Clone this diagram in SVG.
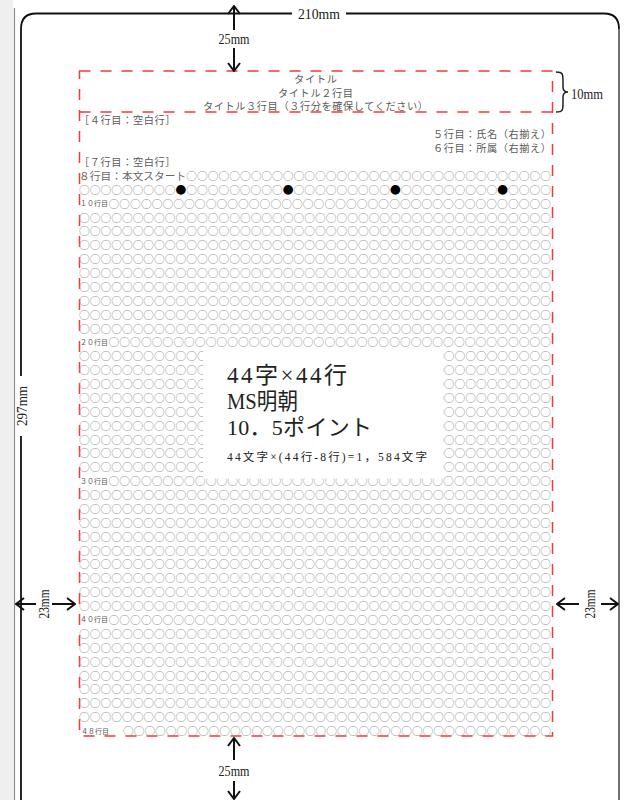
<svg xmlns="http://www.w3.org/2000/svg" width="625" height="800" viewBox="0 0 625 800">
<style>
.g{font-family:"Noto Sans CJK JP",sans-serif;font-size:10.727px;fill:#8f8f8f;dominant-baseline:central}
.lb{fill:#666}
.bk{fill:#000}
.l{font-family:"Noto Sans CJK JP",sans-serif;font-size:10.2px;fill:#5a5a5a;dominant-baseline:central}
.sl{font-family:"Noto Sans CJK JP",sans-serif;font-size:7px;fill:#555;dominant-baseline:central}
.d{font-family:"Liberation Serif","Noto Sans CJK JP",serif;font-size:14px;fill:#222}
.big{font-family:"Liberation Serif","Noto Sans CJK JP",serif;fill:#222}
.red{fill:none;stroke:#f23a3a;stroke-width:1.5;stroke-dasharray:11 10}
.ln{stroke:#111;stroke-width:1.8;fill:none}
.ar{stroke:#111;stroke-width:2;fill:none}
</style>
<defs>
<marker id="arr" viewBox="0 0 10 14" refX="9" refY="7" markerWidth="10" markerHeight="14" markerUnits="userSpaceOnUse" orient="auto">
<path d="M1,1 L9,7 L1,13" fill="none" stroke="#111" stroke-width="2"/>
</marker>
</defs>
<rect width="625" height="800" fill="#fff"/>
<rect width="13" height="800" fill="#efefef"/>

<g id="page-frame">
<line x1="14.5" y1="8" x2="14.5" y2="800" stroke="#8a8a8a" stroke-width="1.2"/>
<path class="ln" d="M21 29 Q21 13.5 36 13.5 H292 M346 13.5 H604 Q619 13.5 619 29"/>
<line x1="619" y1="29" x2="619" y2="800" stroke="#222" stroke-width="1.3"/>
<path class="ln" d="M21 29 V376 M21 436 V800"/>
<text class="d" x="319" y="18.5" text-anchor="middle" textLength="42" lengthAdjust="spacingAndGlyphs">210mm</text>
<text class="d" x="22" y="406" text-anchor="middle" dominant-baseline="central" transform="rotate(-90 22 406)" textLength="40" lengthAdjust="spacingAndGlyphs">297mm</text>
</g>

<g id="text-area">
<rect class="red" x="79.5" y="71" width="473" height="665"/>
<line class="red" x1="79.5" y1="112" x2="552.5" y2="112"/>
</g>

<g id="title-brace">
<path d="M556 72 C563 72 563 74 563 82 L563 87 C563 91 565 92 568 92 C565 92 563 93 563 97 L563 103 C563 110 563 112 556 112" fill="none" stroke="#222" stroke-width="1.5"/>
<text class="d" x="571" y="99" textLength="32" lengthAdjust="spacingAndGlyphs">10mm</text>
</g>

<g id="header-lines">
<text class="l" x="315.5" y="78.1" text-anchor="middle" textLength="43">タイトル</text>
<text class="l" x="315.5" y="92" text-anchor="middle" textLength="75">タイトル２行目</text>
<text class="l" x="315.5" y="105.9" text-anchor="middle" textLength="225">タイトル３行目（３行分を確保してください）</text>
<text class="l" x="79" y="119.8" textLength="96.5">［４行目：空白行］</text>
<text class="l" x="551" y="133.6" text-anchor="end" textLength="118">５行目：氏名（右揃え）</text>
<text class="l" x="551" y="147.5" text-anchor="end" textLength="118">６行目：所属（右揃え）</text>
<text class="l" x="79" y="161.4" textLength="96.5">［７行目：空白行］</text>
</g>

<g id="grid">
<text class="g" x="79" y="175.3" textLength="472"><tspan class="lb">８行目：本文スタート</tspan>○○○○○○○○○○○○○○○○○○○○○○○○○○○○○○○○○○</text>
<text class="g" y="189.2"><tspan x="79">○○○○○○○○○</tspan><tspan x="175.55" class="bk">●</tspan><tspan x="186.27">○○○○○○○○○</tspan><tspan x="282.82" class="bk">●</tspan><tspan x="293.55">○○○○○○○○○</tspan><tspan x="390.09" class="bk">●</tspan><tspan x="400.82">○○○○○○○○○</tspan><tspan x="497.36" class="bk">●</tspan><tspan x="508.09">○○○○</tspan></text>
<text class="sl" x="80" y="203.1">１０行目</text>
<text class="g" x="108.5" y="203.1" textLength="442.5">○○○○○○○○○○○○○○○○○○○○○○○○○○○○○○○○○○○○○○○○○</text>
<text class="g" x="79" y="217" textLength="472">○○○○○○○○○○○○○○○○○○○○○○○○○○○○○○○○○○○○○○○○○○○○</text>
<text class="g" x="79" y="230.8" textLength="472">○○○○○○○○○○○○○○○○○○○○○○○○○○○○○○○○○○○○○○○○○○○○</text>
<text class="g" x="79" y="244.7" textLength="472">○○○○○○○○○○○○○○○○○○○○○○○○○○○○○○○○○○○○○○○○○○○○</text>
<text class="g" x="79" y="258.6" textLength="472">○○○○○○○○○○○○○○○○○○○○○○○○○○○○○○○○○○○○○○○○○○○○</text>
<text class="g" x="79" y="272.5" textLength="472">○○○○○○○○○○○○○○○○○○○○○○○○○○○○○○○○○○○○○○○○○○○○</text>
<text class="g" x="79" y="286.3" textLength="472">○○○○○○○○○○○○○○○○○○○○○○○○○○○○○○○○○○○○○○○○○○○○</text>
<text class="g" x="79" y="300.2" textLength="472">○○○○○○○○○○○○○○○○○○○○○○○○○○○○○○○○○○○○○○○○○○○○</text>
<text class="g" x="79" y="314.1" textLength="472">○○○○○○○○○○○○○○○○○○○○○○○○○○○○○○○○○○○○○○○○○○○○</text>
<text class="g" x="79" y="328" textLength="472">○○○○○○○○○○○○○○○○○○○○○○○○○○○○○○○○○○○○○○○○○○○○</text>
<text class="sl" x="80" y="341.9">２０行目</text>
<text class="g" x="108.5" y="341.9" textLength="442.5">○○○○○○○○○○○○○○○○○○○○○○○○○○○○○○○○○○○○○○○○○</text>
<text class="g" x="79" y="355.7" textLength="128.7">○○○○○○○○○○○○</text>
<text class="g" x="433" y="355.7" textLength="118">○○○○○○○○○○○</text>
<text class="g" x="79" y="369.6" textLength="128.7">○○○○○○○○○○○○</text>
<text class="g" x="433" y="369.6" textLength="118">○○○○○○○○○○○</text>
<text class="g" x="79" y="383.5" textLength="128.7">○○○○○○○○○○○○</text>
<text class="g" x="433" y="383.5" textLength="118">○○○○○○○○○○○</text>
<text class="g" x="79" y="397.4" textLength="128.7">○○○○○○○○○○○○</text>
<text class="g" x="433" y="397.4" textLength="118">○○○○○○○○○○○</text>
<text class="g" x="79" y="411.3" textLength="128.7">○○○○○○○○○○○○</text>
<text class="g" x="433" y="411.3" textLength="118">○○○○○○○○○○○</text>
<text class="g" x="79" y="425.1" textLength="128.7">○○○○○○○○○○○○</text>
<text class="g" x="433" y="425.1" textLength="118">○○○○○○○○○○○</text>
<text class="g" x="79" y="439" textLength="128.7">○○○○○○○○○○○○</text>
<text class="g" x="433" y="439" textLength="118">○○○○○○○○○○○</text>
<text class="g" x="79" y="452.9" textLength="128.7">○○○○○○○○○○○○</text>
<text class="g" x="433" y="452.9" textLength="118">○○○○○○○○○○○</text>
<text class="g" x="79" y="466.8" textLength="128.7">○○○○○○○○○○○○</text>
<text class="g" x="433" y="466.8" textLength="118">○○○○○○○○○○○</text>
<text class="sl" x="80" y="480.7">３０行目</text>
<text class="g" x="108.5" y="480.7" textLength="442.5">○○○○○○○○○○○○○○○○○○○○○○○○○○○○○○○○○○○○○○○○○</text>
<text class="g" x="79" y="494.5" textLength="472">○○○○○○○○○○○○○○○○○○○○○○○○○○○○○○○○○○○○○○○○○○○○</text>
<text class="g" x="79" y="508.4" textLength="472">○○○○○○○○○○○○○○○○○○○○○○○○○○○○○○○○○○○○○○○○○○○○</text>
<text class="g" x="79" y="522.3" textLength="472">○○○○○○○○○○○○○○○○○○○○○○○○○○○○○○○○○○○○○○○○○○○○</text>
<text class="g" x="79" y="536.2" textLength="472">○○○○○○○○○○○○○○○○○○○○○○○○○○○○○○○○○○○○○○○○○○○○</text>
<text class="g" x="79" y="550" textLength="472">○○○○○○○○○○○○○○○○○○○○○○○○○○○○○○○○○○○○○○○○○○○○</text>
<text class="g" x="79" y="563.9" textLength="472">○○○○○○○○○○○○○○○○○○○○○○○○○○○○○○○○○○○○○○○○○○○○</text>
<text class="g" x="79" y="577.8" textLength="472">○○○○○○○○○○○○○○○○○○○○○○○○○○○○○○○○○○○○○○○○○○○○</text>
<text class="g" x="79" y="591.7" textLength="472">○○○○○○○○○○○○○○○○○○○○○○○○○○○○○○○○○○○○○○○○○○○○</text>
<text class="g" x="79" y="605.6" textLength="472">○○○○○○○○○○○○○○○○○○○○○○○○○○○○○○○○○○○○○○○○○○○○</text>
<text class="sl" x="80" y="619.4">４０行目</text>
<text class="g" x="108.5" y="619.4" textLength="442.5">○○○○○○○○○○○○○○○○○○○○○○○○○○○○○○○○○○○○○○○○○</text>
<text class="g" x="79" y="633.3" textLength="472">○○○○○○○○○○○○○○○○○○○○○○○○○○○○○○○○○○○○○○○○○○○○</text>
<text class="g" x="79" y="647.2" textLength="472">○○○○○○○○○○○○○○○○○○○○○○○○○○○○○○○○○○○○○○○○○○○○</text>
<text class="g" x="79" y="661.1" textLength="472">○○○○○○○○○○○○○○○○○○○○○○○○○○○○○○○○○○○○○○○○○○○○</text>
<text class="g" x="79" y="675" textLength="472">○○○○○○○○○○○○○○○○○○○○○○○○○○○○○○○○○○○○○○○○○○○○</text>
<text class="g" x="79" y="688.8" textLength="472">○○○○○○○○○○○○○○○○○○○○○○○○○○○○○○○○○○○○○○○○○○○○</text>
<text class="g" x="79" y="702.7" textLength="472">○○○○○○○○○○○○○○○○○○○○○○○○○○○○○○○○○○○○○○○○○○○○</text>
<text class="g" x="79" y="716.6" textLength="472">○○○○○○○○○○○○○○○○○○○○○○○○○○○○○○○○○○○○○○○○○○○○</text>
<text class="sl" x="81" y="730.5" font-size="9">４８行目</text>
<text class="g" x="123" y="730.5" textLength="428">○○○○○○○○○○○○○○○○○○○○○○○○○○○○○○○○○○○○○○○○</text>
</g>

<g id="center-note">
<rect x="203" y="348" width="240" height="130.5" fill="#fff"/>
<text class="big" x="227" y="383" font-size="23" textLength="120">44字×44行</text>
<text class="big" x="227" y="409" font-size="23" textLength="71" lengthAdjust="spacingAndGlyphs">MS明朝</text>
<text class="big" x="227" y="435" font-size="22" textLength="145">10．5ポイント</text>
<text class="big" x="227" y="461" font-size="11.5" textLength="200">44文字×(44行-8行)=1，584文字</text>
</g>

<g id="connectors">
<line class="ar" x1="234" y1="30" x2="234" y2="6" marker-end="url(#arr)"/>
<line class="ar" x1="234" y1="48" x2="234" y2="71" marker-end="url(#arr)"/>
<text class="d" x="234" y="44" text-anchor="middle" textLength="31" lengthAdjust="spacingAndGlyphs">25mm</text>
<line class="ar" x1="234" y1="760" x2="234" y2="738" marker-end="url(#arr)"/>
<line class="ar" x1="234" y1="781" x2="234" y2="799" marker-end="url(#arr)"/>
<text class="d" x="234" y="776" text-anchor="middle" textLength="31" lengthAdjust="spacingAndGlyphs">25mm</text>
<line class="ar" x1="36" y1="604" x2="16" y2="604" marker-end="url(#arr)"/>
<line class="ar" x1="52" y1="604" x2="75" y2="604" marker-end="url(#arr)"/>
<text class="d" x="44" y="604" text-anchor="middle" dominant-baseline="central" transform="rotate(-90 44 604)" textLength="29" lengthAdjust="spacingAndGlyphs">23mm</text>
<line class="ar" x1="579" y1="604" x2="557" y2="604" marker-end="url(#arr)"/>
<line class="ar" x1="601" y1="604" x2="618" y2="604" marker-end="url(#arr)"/>
<text class="d" x="590" y="604" text-anchor="middle" dominant-baseline="central" transform="rotate(-90 590 604)" textLength="29" lengthAdjust="spacingAndGlyphs">23mm</text>
</g>
</svg>
